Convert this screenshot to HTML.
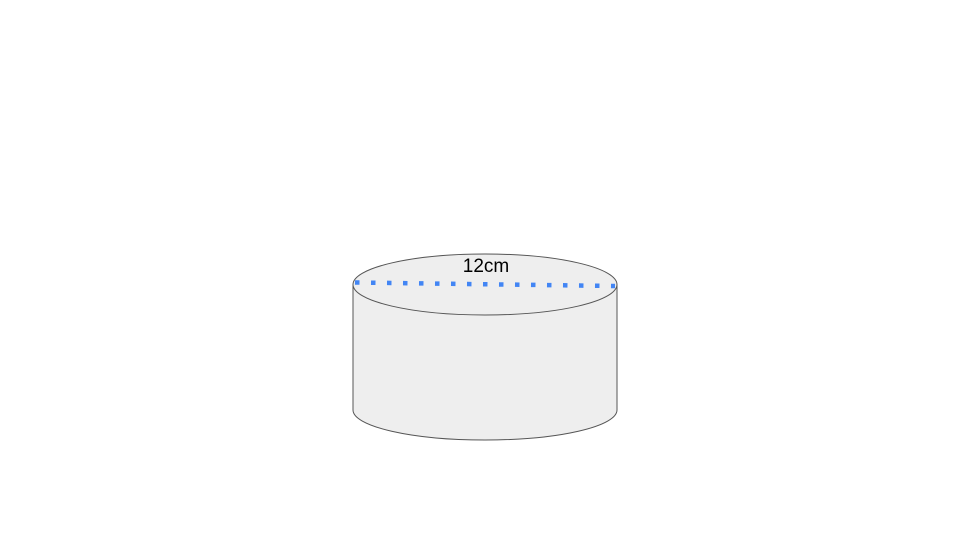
<!DOCTYPE html>
<html><head><meta charset="utf-8"><style>html,body{margin:0;padding:0;background:#fff;}svg{display:block;}</style></head>
<body>
<svg width="960" height="540" viewBox="0 0 960 540">
  <path d="M353,284.5 L353,410 A132,30 0 0 0 617,410 L617,284.5 Z" fill="#eeeeee" stroke="#555" stroke-width="1"/>
  <ellipse cx="485" cy="284.5" rx="132" ry="30.5" fill="#eeeeee" stroke="#555" stroke-width="1"/>
  <line x1="355" y1="282.5" x2="615" y2="286" stroke="#4285f4" stroke-width="4.5" stroke-dasharray="4.5 11.5"/>
  <text x="486" y="272" text-anchor="middle" font-family="Liberation Sans, Arial, sans-serif" font-size="19" fill="#000">12cm</text>
</svg>
</body></html>
